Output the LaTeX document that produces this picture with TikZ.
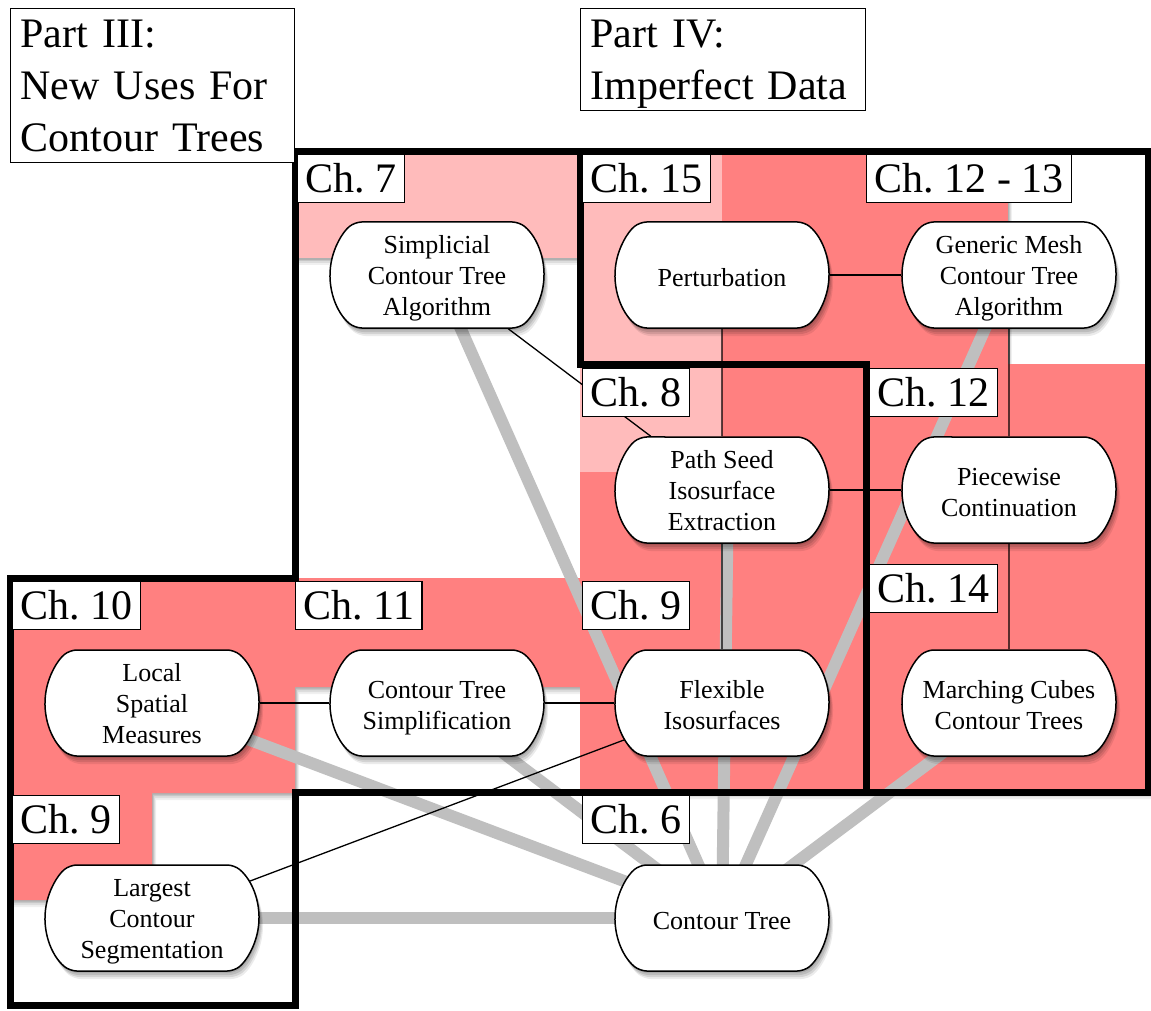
\documentclass[tikz,border=0pt]{standalone}
\usepackage{fontspec}
\setmainfont{Liberation Serif}
\frenchspacing
\usetikzlibrary{shapes.misc}
\definecolor{lpink}{RGB}{255,187,187}
\definecolor{pinkB}{RGB}{255,128,128}
\definecolor{lgray}{RGB}{191,191,191}
\pgfdeclarelayer{regions}
\pgfdeclarelayer{lines}
\pgfsetlayers{regions,lines,main}
\tikzset{
 softshadow/.style={
   preaction={fill=black,fill opacity=.10,transform canvas={xshift=1pt,yshift=-2pt}},
   preaction={fill=black,fill opacity=.10,transform canvas={xshift=2pt,yshift=-4pt}},
   preaction={fill=black,fill opacity=.10,transform canvas={xshift=3pt,yshift=-6pt}},
   preaction={fill=black,fill opacity=.08,transform canvas={xshift=4pt,yshift=-8pt}}},
 regshadow/.style={
   preaction={fill=black,fill opacity=.10,transform canvas={xshift=1pt,yshift=-1.5pt}},
   preaction={fill=black,fill opacity=.10,transform canvas={xshift=2pt,yshift=-3pt}},
   preaction={fill=black,fill opacity=.08,transform canvas={xshift=3pt,yshift=-5pt}},
   preaction={fill=black,fill opacity=.06,transform canvas={xshift=4pt,yshift=-7pt}}},
 topic/.style={rounded rectangle, rounded rectangle arc length=100, rounded corners=7pt, draw, line width=1.5pt, fill=white,
   minimum width=214pt, minimum height=106pt, inner sep=0pt, align=center, font=\fontsize{26}{31}\selectfont,
   text height=22pt, text depth=0pt, softshadow},
 two/.style={topic, text height=52pt, text depth=0pt},
 three/.style={topic, text height=84pt, text depth=4pt},
 chlabel/.style={draw, line width=1.2pt, fill=white, anchor=north west, font=\fontsize{42}{48}\selectfont,
   inner xsep=8pt, inner ysep=10pt, text height=28pt, text depth=0pt},
 parttitle/.style={draw, line width=1.2pt, fill=white, anchor=north west, align=left, inner xsep=10pt, inner ysep=11pt,
   text height=28pt, font=\fontsize{42}{52}\selectfont},
 feed/.style={lgray, line width=12pt},
 link/.style={line width=1.3pt},
 border/.style={line width=7pt},
}
\begin{document}
\begin{tikzpicture}[x=1pt,y=-1pt]
\useasboundingbox (0,0) rectangle (1151,1011);

% coloured chapter regions
\begin{pgfonlayer}{regions}
\fill[white] (0,0) rectangle (1151,1011);
\fill[lpink, regshadow] (295,152) rectangle (580,258);
\fill[lpink, regshadow] (580,152) rectangle (722,472);
\fill[pinkB, regshadow] (722,152) rectangle (1008,364);
\fill[pinkB, regshadow] (10,578) -- (580,578) -- (580,687) -- (295,687) -- (295,793) -- (152,793) -- (152,900) -- (10,900) -- cycle;
\fill[pinkB, regshadow] (722,364) -- (1148,364) -- (1148,792) -- (580,792) -- (580,472) -- (722,472) -- cycle;
\end{pgfonlayer}

% topic nodes
\node[three] (simp)  at (437,275) {Simplicial\\Contour Tree\\Algorithm};
\node[topic] (pert)  at (722,275) {Perturbation};
\node[three] (gen)   at (1009,275) {Generic Mesh\\Contour Tree\\Algorithm};
\node[three] (path)  at (722,490) {Path Seed\\Isosurface\\Extraction};
\node[two]   (piece) at (1009,490) {Piecewise\\Continuation};
\node[three] (local) at (152,703) {Local\\Spatial\\Measures};
\node[two]   (cts)   at (437,703) {Contour Tree\\Simplification};
\node[two]   (flex)  at (722,703) {Flexible\\Isosurfaces};
\node[two]   (mc)    at (1009,703) {Marching Cubes\\Contour Trees};
\node[three] (lcs)   at (152,918) {Largest\\Contour\\Segmentation};
\node[topic] (ct)    at (722,918) {Contour Tree};

% connectors
\begin{pgfonlayer}{lines}
\draw[feed] (simp.center) -- (ct.center);
\draw[feed] (gen.center) -- (ct.center);
\draw[feed] ([xshift=6pt]path.center) -- (ct.center);
\draw[feed] (mc.center) -- (ct.center);
\draw[feed] (local.center) -- (ct.center);
\draw[feed] (cts.center) -- (ct.center);
\draw[feed] (lcs.center) -- (ct.center);
\draw[link] (pert) -- (gen);
\draw[link] (pert) -- (path);
\draw[link] (gen) -- (piece);
\draw[link] (piece) -- (mc);
\draw[link] (path) -- (piece);
\draw[link] (simp) -- (path);
\draw[link] (local) -- (cts);
\draw[link] (cts) -- (flex);
\draw[link] (lcs) -- (flex);
\draw[link] (path) -- (flex);
\draw[border] (295,152) -- (580,152) -- (580,364) -- (866,364) -- (866,792) -- (295,792) -- (295,1005) -- (10,1005) -- (10,578) -- (295,578) -- cycle;
\draw[border] (580,152) -- (1148,152) -- (1148,792) -- (866,792) -- (866,364) -- (580,364) -- cycle;
\end{pgfonlayer}

% part titles
\node[parttitle, text width=264pt, text depth=104pt] (p3) at (10,8) {Part III:\\New Uses For\\Contour Trees};
\node[parttitle, text width=265pt, text depth=52pt] (p4) at (580,8) {Part IV:\\Imperfect Data};

% chapter labels
\node[chlabel] (c7)   at (297,154) {Ch. 7};
\node[chlabel] (c15)  at (582,154) {Ch. 15};
\node[chlabel] (c1213) at (866,154) {Ch. 12 - 13};
\node[chlabel] (c8)   at (582,368) {Ch. 8};
\node[chlabel] (c12)  at (869,368) {Ch. 12};
\node[chlabel] (c14)  at (869,564) {Ch. 14};
\node[chlabel] (c10)  at (12,581) {Ch. 10};
\node[chlabel] (c11)  at (295,581) {Ch. 11};
\node[chlabel] (c9a)  at (582,581) {Ch. 9};
\node[chlabel] (c9b)  at (12,795) {Ch. 9};
\node[chlabel] (c6)   at (582,795) {Ch. 6};
\end{tikzpicture}
\end{document}
